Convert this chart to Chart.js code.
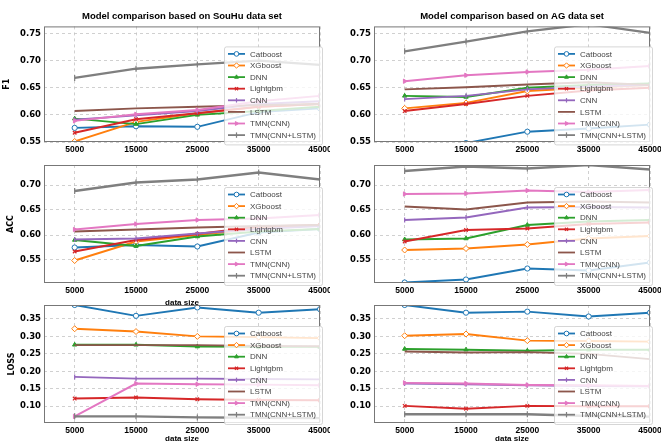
<!DOCTYPE html>
<html>
<head>
<meta charset="utf-8">
<script src="https://cdn.jsdelivr.net/npm/chart.js@4/dist/chart.umd.min.js"></script>
<style>
  body { margin: 0; background: #fff; }
  #fig { position: relative; width: 661px; height: 444px; overflow: hidden; background: #fff; }
  #fig canvas { position: absolute; }
</style>
</head>
<body>
<div id="fig">
  <canvas id="f1-souhu" width="330" height="160" style="left:0;top:0"></canvas>
  <canvas id="f1-ag" width="331" height="160" style="left:330px;top:0"></canvas>
  <canvas id="acc-souhu" width="330" height="153" style="left:0;top:155px"></canvas>
  <canvas id="acc-ag" width="331" height="153" style="left:330px;top:155px"></canvas>
  <canvas id="loss-souhu" width="330" height="148" style="left:0;top:296px"></canvas>
  <canvas id="loss-ag" width="331" height="148" style="left:330px;top:296px"></canvas>
</div>
<script>
// Data sizes on the x axis and the compared models
const sizes = [5000, 15000, 25000, 35000, 45000];
const models = ['Catboost', 'XGboost', 'DNN', 'Lightgbm', 'CNN', 'LSTM', 'TMN(CNN)', 'TMN(CNN+LSTM)'];

// Tick labels
const xTicks = [5000, 15000, 25000, 35000, 45000];
const f1Ticks = [0.55, 0.60, 0.65, 0.70, 0.75];
const accTicks = [0.55, 0.60, 0.65, 0.70];
const lossTicks = [0.10, 0.15, 0.20, 0.25, 0.30, 0.35];

// One row per model, same order as `models`
const f1SouHu = [
    [0.576, 0.579, 0.578, 0.605, 0.612],
    [0.551, 0.587, 0.603, 0.615, 0.620],
    [0.593, 0.583, 0.600, 0.607, 0.615],
    [0.567, 0.592, 0.603, 0.615, 0.620],
    [0.591, 0.599, 0.607, 0.620, 0.625],
    [0.607, 0.612, 0.615, 0.618, 0.620],
    [0.589, 0.601, 0.609, 0.625, 0.635],
    [0.668, 0.685, 0.693, 0.700, 0.692]
];
const f1AG = [
    [0.520, 0.548, 0.569, 0.575, 0.582],
    [0.612, 0.622, 0.644, 0.650, 0.655],
    [0.635, 0.633, 0.650, 0.655, 0.658],
    [0.607, 0.620, 0.635, 0.645, 0.650],
    [0.629, 0.635, 0.647, 0.652, 0.655],
    [0.647, 0.651, 0.656, 0.660, 0.655],
    [0.662, 0.673, 0.679, 0.683, 0.690],
    [0.717, 0.735, 0.754, 0.767, 0.751]
];
const accSouHu = [
    [0.575, 0.580, 0.577, 0.605, 0.612],
    [0.549, 0.587, 0.600, 0.613, 0.620],
    [0.590, 0.578, 0.597, 0.607, 0.612],
    [0.567, 0.590, 0.602, 0.617, 0.620],
    [0.591, 0.593, 0.603, 0.612, 0.618],
    [0.607, 0.611, 0.615, 0.618, 0.620],
    [0.611, 0.622, 0.630, 0.633, 0.640],
    [0.688, 0.705, 0.711, 0.725, 0.711]
];
const accAG = [
    [0.505, 0.511, 0.533, 0.529, 0.545],
    [0.570, 0.573, 0.581, 0.593, 0.598],
    [0.591, 0.593, 0.620, 0.627, 0.630],
    [0.587, 0.610, 0.613, 0.622, 0.625],
    [0.630, 0.635, 0.655, 0.656, 0.655],
    [0.657, 0.651, 0.665, 0.667, 0.665],
    [0.682, 0.683, 0.689, 0.686, 0.690],
    [0.728, 0.737, 0.733, 0.740, 0.731]
];
const lossSouHu = [
    [0.390, 0.359, 0.383, 0.368, 0.378],
    [0.322, 0.314, 0.300, 0.298, 0.295],
    [0.276, 0.276, 0.271, 0.270, 0.270],
    [0.122, 0.125, 0.120, 0.118, 0.117],
    [0.184, 0.179, 0.179, 0.178, 0.177],
    [0.275, 0.275, 0.275, 0.273, 0.272],
    [0.071, 0.165, 0.163, 0.162, 0.160],
    [0.071, 0.071, 0.068, 0.067, 0.066]
];
const lossAG = [
    [0.390, 0.368, 0.371, 0.357, 0.368],
    [0.302, 0.307, 0.288, 0.287, 0.285],
    [0.264, 0.262, 0.259, 0.262, 0.262],
    [0.101, 0.093, 0.101, 0.100, 0.100],
    [0.165, 0.163, 0.160, 0.158, 0.157],
    [0.257, 0.254, 0.255, 0.250, 0.235],
    [0.167, 0.165, 0.161, 0.160, 0.158],
    [0.077, 0.077, 0.077, 0.072, 0.070]
];

// Line / marker look per model (matplotlib tab10)
const STYLES = [
    { color: '#1f77b4', point: 'circle', radius: 2.6, fill: '#ffffff', bw: 1 },
    { color: '#ff7f0e', point: 'rectRot', radius: 3, fill: '#ffffff', bw: 1 },
    { color: '#2ca02c', point: 'triangle', radius: 2.5, fill: '#2ca02c', bw: 1 },
    { color: '#d62728', point: 'crossRot', radius: 2.5, fill: '#d62728', bw: 1.2 },
    { color: '#9467bd', point: 'line', radius: 2.5, fill: '#9467bd', bw: 1.2, rot: 90 },
    { color: '#8c564b', point: 'circle', radius: 0, fill: '#8c564b', bw: 0 },
    { color: '#e377c2', point: 'triangle', radius: 2.5, fill: '#e377c2', bw: 1, rot: 90 },
    { color: '#7f7f7f', point: 'line', radius: 3, fill: '#7f7f7f', bw: 1.2, rot: 90 }
];

Chart.defaults.font.family = 'DejaVu Sans';
Chart.defaults.color = '#000';

// axes box (all four spines)
const frame = {
    id: 'frame',
    afterDatasetsDraw(chart) {
        const a = chart.chartArea, ctx = chart.ctx;
        ctx.save();
        ctx.strokeStyle = '#777';
        ctx.lineWidth = 1;
        ctx.strokeRect(a.left + 0.5, a.top + 0.5, a.right - a.left - 1, a.bottom - a.top - 1);
        ctx.restore();
    }
};

// matplotlib-like legend drawn inside the axes, on top of the lines
const boxLegend = {
    id: 'boxLegend',
    afterDraw(chart, args, opts) {
        const ctx = chart.ctx, a = chart.chartArea;
        const left = a.right - 96, top = a.top + opts.top;
        const w = 98, h = 98, rowH = 11.6;
        ctx.save();
        ctx.beginPath();
        ctx.roundRect(left + 0.5, top + 0.5, w, h, 2);
        ctx.fillStyle = 'rgba(255,255,255,0.8)';
        ctx.fill();
        ctx.strokeStyle = 'rgba(204,204,204,0.8)';
        ctx.lineWidth = 1;
        ctx.stroke();
        chart.data.datasets.forEach((ds, i) => {
            const y = top + 7.5 + i * rowH;
            ctx.strokeStyle = ds.borderColor;
            ctx.lineWidth = 1.8;
            ctx.beginPath();
            ctx.moveTo(left + 4, y);
            ctx.lineTo(left + 21, y);
            ctx.stroke();
            if (ds.pointRadius > 0 && Chart.helpers && Chart.helpers.drawPoint) {
                ctx.fillStyle = ds.pointBackgroundColor;
                ctx.strokeStyle = ds.pointBorderColor;
                ctx.lineWidth = ds.pointBorderWidth;
                Chart.helpers.drawPoint(ctx, {
                    pointStyle: ds.pointStyle, rotation: ds.pointRotation || 0,
                    radius: ds.pointRadius * 0.9, borderWidth: ds.pointBorderWidth
                }, left + 12.5, y);
            }
            ctx.fillStyle = '#444';
            ctx.font = '8px "Liberation Sans"';
            ctx.textBaseline = 'middle';
            ctx.fillText(ds.label, left + 26, y + 0.5);
        });
        ctx.restore();
    }
};

function makePanel(p) {
    const datasets = models.map((name, i) => {
        const s = STYLES[i];
        return {
            label: name,
            data: p.values[i].map((v, j) => ({ x: sizes[j], y: v })),
            borderColor: s.color,
            backgroundColor: s.color,
            borderWidth: i === 7 ? 2.3 : 1.9,
            pointStyle: s.point,
            pointRotation: s.rot || 0,
            pointRadius: s.radius,
            pointBackgroundColor: s.fill,
            pointBorderColor: s.color,
            pointBorderWidth: s.bw,
            tension: 0,
            order: models.length - i
        };
    });

    return new Chart(document.getElementById(p.id), {
        type: 'line',
        data: { datasets },
        plugins: [frame, boxLegend],
        options: {
            responsive: false,
            animation: false,
            events: [],
            layout: { padding: { left: 0, right: p.padRight, top: p.padTop, bottom: 0 } },
            plugins: {
                legend: { display: false },
                tooltip: { enabled: false },
                title: {
                    display: !!p.title,
                    text: p.title || '',
                    fullSize: false,
                    color: '#000',
                    font: { family: 'Liberation Sans', size: 9.5, weight: 'bold' },
                    padding: { top: 11, bottom: 4 }
                },
                boxLegend: { top: p.legendTop }
            },
            scales: {
                x: {
                    type: 'linear',
                    min: 0,
                    max: 45000,
                    afterBuildTicks: s => { s.ticks = xTicks.map(v => ({ value: v })); },
                    afterFit: s => { s.height = p.xHeight; s.paddingLeft = 0; s.paddingRight = 0; },
                    ticks: {
                        autoSkip: false,
                        maxRotation: 0,
                        padding: 3,
                        color: '#000',
                        font: { family: 'Liberation Sans', size: 8.5, weight: 'bold' },
                        callback: v => String(v)
                    },
                    grid: { color: '#c4c4c4', lineWidth: 0.8, drawTicks: false },
                    border: { display: false, dash: [3, 3] },
                    title: {
                        display: !!p.xTitle,
                        text: 'data size',
                        color: '#000',
                        font: { family: 'Liberation Sans', size: 8, weight: 'bold' },
                        padding: { top: 0, bottom: 0 }
                    }
                },
                y: {
                    min: p.yMin,
                    max: p.yMax,
                    afterBuildTicks: s => { s.ticks = p.yTicks.map(v => ({ value: v })); },
                    afterFit: s => { s.width = 44; s.paddingTop = 0; s.paddingBottom = 0; },
                    ticks: {
                        padding: 3,
                        color: '#000',
                        font: { family: 'DejaVu Sans', size: 8.5, weight: 'bold' },
                        callback: v => v.toFixed(2)
                    },
                    grid: { color: '#c4c4c4', lineWidth: 0.8, drawTicks: false },
                    border: { display: false, dash: [3, 3] },
                    title: {
                        display: !!p.yTitle,
                        text: p.yTitle || '',
                        color: '#000',
                        font: { family: 'DejaVu Sans', size: 8, weight: 'bold' },
                        padding: { top: p.yTitlePad || 0, bottom: 0 }
                    }
                }
            }
        }
    });
}

const panels = [
    { id: 'f1-souhu', values: f1SouHu, title: 'Model comparison based on SouHu data set', yTitle: 'F1', yTitlePad: 2,
      yTicks: f1Ticks, yMin: 0.55, yMax: 0.763, padTop: 0, padRight: 10, xHeight: 18, legendTop: 20 },
    { id: 'f1-ag', values: f1AG, title: 'Model comparison based on AG data set',
      yTicks: f1Ticks, yMin: 0.55, yMax: 0.763, padTop: 0, padRight: 11, xHeight: 18, legendTop: 20 },
    { id: 'acc-souhu', values: accSouHu, yTitle: 'ACC', yTitlePad: 6, xTitle: true,
      yTicks: accTicks, yMin: 0.504, yMax: 0.740, padTop: 10, padRight: 10, xHeight: 25, legendTop: 22 },
    { id: 'acc-ag', values: accAG,
      yTicks: accTicks, yMin: 0.504, yMax: 0.740, padTop: 10, padRight: 11, xHeight: 25, legendTop: 22 },
    { id: 'loss-souhu', values: lossSouHu, yTitle: 'LOSS', yTitlePad: 7, xTitle: true,
      yTicks: lossTicks, yMin: 0.052, yMax: 0.390, padTop: 9, padRight: 10, xHeight: 21, legendTop: 21 },
    { id: 'loss-ag', values: lossAG, xTitle: true,
      yTicks: lossTicks, yMin: 0.052, yMax: 0.390, padTop: 9, padRight: 11, xHeight: 21, legendTop: 21 }
];

panels.forEach(makePanel);
</script>
</body>
</html>
